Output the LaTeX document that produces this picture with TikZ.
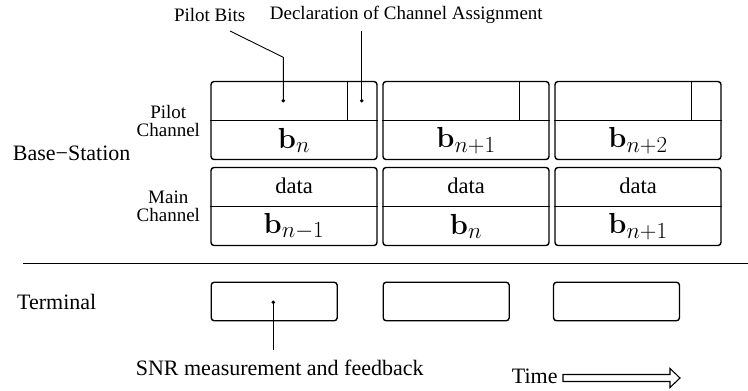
\RequirePackage{fix-cm}
\documentclass[tikz,border=0pt]{standalone}
\usepackage[no-math]{fontspec}
\setmainfont{Liberation Serif}
\usetikzlibrary{calc}
\newcommand\bsubx[1]{\mathbf{b}_{\hbox{\fontsize{23}{23}\selectfont$#1$}}}
\tikzset{
  frame/.style={draw, line width=1.4pt, rounded corners=3pt, minimum width=166pt, minimum height=78pt, inner sep=0pt},
  tframe/.style={draw, line width=1.4pt, rounded corners=3pt, minimum width=126pt, minimum height=38.5pt, inner sep=0pt},
  divider/.style={line width=1.3pt},
  lead/.style={line width=0.9pt},
  dotm/.style={circle, fill=black, inner sep=0pt, minimum size=3.8pt},
  lbl/.style={inner sep=0pt, font=\fontsize{19}{20}\selectfont, align=center},
  biglbl/.style={inner sep=0pt, font=\fontsize{22}{24}\selectfont},
  cell/.style={inner sep=0pt, font=\fontsize{29}{30}\selectfont},
  datal/.style={inner sep=0pt, font=\fontsize{22.5}{24}\selectfont},
}
\begin{document}
\begin{tikzpicture}[x=1pt,y=-1pt]
\useasboundingbox (0,0) rectangle (748,391);
% pilot boxes
\node[frame] (p1) at (294,120.5) {};
\node[frame] (p2) at (466,120.5) {};
\node[frame] (p3) at (638,120.5) {};
% main boxes
\node[frame] (m1) at (294,206.5) {};
\node[frame] (m2) at (466,206.5) {};
\node[frame] (m3) at (638,206.5) {};
% dividers
\foreach \b in {p1,p2,p3,m1,m2,m3}{
  \draw[divider] (\b.west) -- (\b.east);
}
\foreach \b in {p1,p2,p3}{
  \draw[divider] ($(\b.north east)+(-30,0)$) -- ($(\b.east)+(-30,0)$);
}
% cell labels
\node[cell] at ($(p1.center)!0.5!(p1.south)$) {$\bsubx{n}$};
\node[cell] at ($(p2.center)!0.5!(p2.south)$) {$\bsubx{n{+}1}$};
\node[cell] at ($(p3.center)!0.5!(p3.south)$) {$\bsubx{n{+}2}$};
\node[cell] at ($(m1.center)!0.5!(m1.south)$) {$\bsubx{n{-}1}$};
\node[cell] at ($(m2.center)!0.5!(m2.south)$) {$\bsubx{n}$};
\node[cell] at ($(m3.center)!0.5!(m3.south)$) {$\bsubx{n{+}1}$};
\foreach \b in {m1,m2,m3}{
  \node[datal] at ($(\b.center)!0.5!(\b.north)+(0,-1)$) {data};
}
% side labels
\node[lbl] (pc) at (168.3,121) {Pilot\\[-2pt]Channel};
\node[lbl] (mc) at (168.3,206) {Main\\[-2pt]Channel};
\node[biglbl] (bs) at (71.7,153) {Base{\char"2212}Station};
\node[biglbl] (term) at (56.7,302) {Terminal};
% separator
\coordinate (sepL) at (23.3,263.3);
\coordinate (sepR) at (748,263.3);
\draw[line width=1.4pt] (sepL) -- (sepR);
% terminal boxes
\node[tframe] (t1) at (274.2,301.5) {};
\node[tframe] (t2) at (446.2,301.5) {};
\node[tframe] (t3) at (616.5,301.5) {};
% top labels
\node[lbl] (pb) at (209.7,14.5) {Pilot Bits};
\node[lbl] (decl) at (406.3,14.5) {Declaration of Channel Assignment};
\node[dotm] (d1) at (283.3,100.7) {};
\node[dotm] (d2) at (361.7,100.7) {};
\coordinate (pbA) at (230,31);
\coordinate (pbB) at (283.3,57.3);
\coordinate (dcA) at (361.7,31);
\draw[lead] (pbA) -- (pbB) -- (d1.center);
\draw[lead] (dcA) -- (d2.center);
% SNR
\node[dotm] (d3) at (273.3,302.3) {};
\coordinate (snrA) at (273.3,350);
\draw[lead] (d3.center) -- (snrA);
\node[biglbl] (snr) at (279.7,367.5) {SNR measurement and feedback};
% time arrow
\node[biglbl] (time) at (534.7,376) {Time};
\coordinate (ta) at (563,378);
\draw[line width=1.1pt, fill=white]
  (ta) ++(0,-3.5) -- ++(107,0) -- ++(0,-6) -- ++(10,9.5) -- ++(-10,9.5) -- ++(0,-6) -- ++(-107,0) -- cycle;
\end{tikzpicture}
\end{document}
